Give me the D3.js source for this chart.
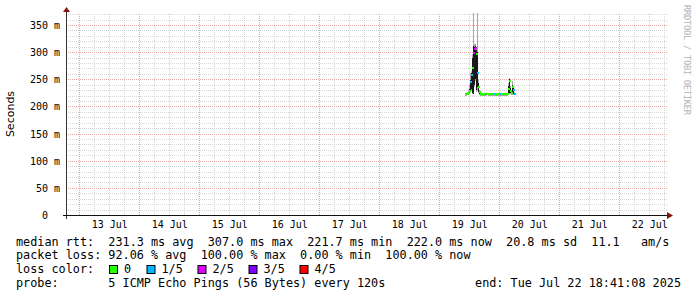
<!DOCTYPE html>
<html>
<head>
<meta charset="utf-8">
<script src="https://cdn.jsdelivr.net/npm/d3@7"></script>
<style>
  body { margin: 0; background: #fff; }
  svg { display: block; }
  text { font-family: "DejaVu Sans Mono", monospace; fill: #000; white-space: pre; }
</style>
</head>
<body>
<svg id="chart"></svg>
<script>
// time window of the graph (10 days ending at the probe time)
var startTime = new Date(2025, 6, 12, 18, 41, 8);
var endTime = new Date(2025, 6, 22, 18, 41, 8);

// y axis ticks in seconds
var yTicks = [0, 0.05, 0.1, 0.15, 0.2, 0.25, 0.3, 0.35];

// samples: one every 24 minutes starting at 19 Jul 10:24
var sampleStart = new Date(2025, 6, 19, 10, 24);
var sampleStepMin = 24;

// median rtt (ms) per sample
var medianRtt = [222, 222, 223, 224, 228, 245, 258, 270, 298, 305,
                 307, 296, 262, 236, 226, 222, 222, 221, 222, 222,
                 222, 222, 223, 222, 222, 222, 222, 222, 222, 222,
                 221, 222, 222, 222, 222, 222, 222, 222, 222, 222,
                 222, 222, 222, 232, 247, 229, 224, 236, 231, 223];

// lost pings out of 5 per sample
var lossCount = [0, 0, 0, 0, 0, 1, 1, 0, 2, 2,
                 2, 0, 1, 0, 0, 0, 0, 0, 0, 0,
                 1, 0, 0, 0, 0, 0, 0, 0, 0, 1,
                 0, 0, 0, 0, 0, 1, 0, 0, 0, 0,
                 0, 0, 0, 0, 0, 0, 0, 0, 1, 1];

// dark smoke (inner pings), ms
var smokeLow  = [221, 221, 222, 222, 224, 226, 232, 224, 222, 240,
                 250, 230, 236, 226, 222, 221, 221, 221, 221, 221,
                 221, 221, 222, 221, 221, 221, 221, 221, 221, 221,
                 220, 221, 221, 221, 221, 221, 221, 221, 221, 221,
                 221, 221, 221, 224, 224, 224, 222, 222, 222, 222];
var smokeHigh = [223, 223, 224, 226, 232, 248, 262, 290, 312, 310,
                 312, 304, 300, 244, 228, 223, 223, 222, 223, 223,
                 223, 223, 224, 223, 223, 223, 223, 223, 223, 223,
                 222, 223, 223, 223, 223, 223, 223, 223, 223, 223,
                 223, 223, 223, 238, 250, 234, 226, 240, 234, 225];

// light smoke (all pings), ms
var pingMin = [220, 220, 221, 221, 222, 224, 228, 222, 222, 236,
               246, 226, 228, 224, 221, 220, 220, 220, 220, 220,
               220, 220, 221, 220, 220, 220, 220, 220, 220, 220,
               219, 220, 220, 220, 220, 220, 220, 220, 220, 220,
               220, 220, 220, 222, 222, 222, 221, 221, 221, 221];
var pingMax = [224, 224, 226, 230, 240, 262, 266, 296, 372, 314,
               314, 308, 372, 250, 230, 224, 224, 223, 224, 224,
               224, 224, 225, 224, 224, 224, 224, 224, 224, 224,
               223, 224, 224, 224, 224, 224, 224, 224, 224, 224,
               224, 224, 224, 244, 253, 238, 228, 246, 236, 227];

var lossLabels = ["0", "1/5", "2/5", "3/5", "4/5"];
var lossColors = ["#26ff00", "#00b8ff", "#dd00ff", "#7e00ff", "#ff0000"];

var legendLines = [
  "median rtt:  231.3 ms avg  307.0 ms max  221.7 ms min  222.0 ms now  20.8 ms sd  11.1   am/s",
  "packet loss: 92.06 % avg  100.00 % max  0.00 % min  100.00 % now",
  "loss color:",
  "probe:       5 ICMP Echo Pings (56 Bytes) every 120s"
];
var endLabel = "end: Tue Jul 22 18:41:08 2025";

var W = 697, H = 297;
var pLeft = 66, pRight = 666, pTop = 13, pBottom = 215;

var svg = d3.select("#chart").attr("width", W).attr("height", H);

var x = d3.scaleTime().domain([startTime, endTime]).range([pLeft, pRight]);
var y = d3.scaleLinear().domain([0, 0.372]).range([pBottom, pTop]);

function grid(g, color) {
  g.select(".domain").remove();
  g.selectAll("line")
      .attr("stroke", color)
      .attr("stroke-dasharray", "1,1")
      .attr("shape-rendering", "crispEdges");
}

// minor grid
svg.append("g")
    .attr("transform", "translate(0," + pBottom + ")")
    .call(d3.axisBottom(x).ticks(d3.timeHour.every(6)).tickSize(-(pBottom - pTop)).tickFormat(""))
    .call(grid, "#d6d6d6");
svg.append("g")
    .attr("transform", "translate(" + pLeft + ",0)")
    .call(d3.axisLeft(y).tickValues(d3.range(1, 38).map(d => d / 100)).tickSize(-(pRight - pLeft + 1)).tickFormat(""))
    .call(grid, "#d6d6d6");

// major grid
svg.append("g")
    .attr("transform", "translate(0," + pBottom + ")")
    .call(d3.axisBottom(x).ticks(d3.timeDay.every(1)).tickSize(-(pBottom - pTop)).tickFormat(""))
    .call(grid, "#e4a8a8");
svg.append("g")
    .attr("transform", "translate(" + pLeft + ",0)")
    .call(d3.axisLeft(y).tickValues(yTicks.slice(1)).tickSize(-(pRight - pLeft + 1)).tickFormat(""))
    .call(grid, "#e4a8a8");

// data
var samples = medianRtt.map(function(m, i) {
  var t0 = d3.timeMinute.offset(sampleStart, i * sampleStepMin);
  var t1 = d3.timeMinute.offset(sampleStart, (i + 1) * sampleStepMin);
  return { t0: t0, t1: t1, median: m / 1000, loss: lossCount[i],
           lo: smokeLow[i] / 1000, hi: smokeHigh[i] / 1000,
           min: pingMin[i] / 1000, max: pingMax[i] / 1000 };
});

var plot = svg.append("g").attr("shape-rendering", "crispEdges");

plot.selectAll("rect.light").data(samples).enter().append("rect")
    .attr("class", "light")
    .attr("x", d => x(d.t0))
    .attr("width", d => Math.max(1, x(d.t1) - x(d.t0)))
    .attr("y", d => y(d.max))
    .attr("height", d => y(d.min) - y(d.max))
    .attr("fill", "#a8a8a8");

plot.selectAll("rect.dark").data(samples).enter().append("rect")
    .attr("class", "dark")
    .attr("x", d => x(d.t0))
    .attr("width", d => Math.max(1, x(d.t1) - x(d.t0)))
    .attr("y", d => y(d.hi))
    .attr("height", d => y(d.lo) - y(d.hi))
    .attr("fill", "#1a1a1a");

plot.selectAll("rect.median").data(samples).enter().append("rect")
    .attr("class", "median")
    .attr("x", d => x(d.t0))
    .attr("width", d => Math.max(1, x(d.t1) - x(d.t0)) + 0.5)
    .attr("y", d => y(d.median) - 1)
    .attr("height", 2)
    .attr("fill", d => lossColors[d.loss]);

// axes lines and arrows
svg.append("line")
    .attr("x1", pLeft + 0.5).attr("x2", pLeft + 0.5)
    .attr("y1", pTop - 1).attr("y2", pBottom + 4)
    .attr("stroke", "#333");
svg.append("line")
    .attr("x1", pLeft - 3).attr("x2", pRight + 1)
    .attr("y1", pBottom + 0.5).attr("y2", pBottom + 0.5)
    .attr("stroke", "#111");
svg.append("path")
    .attr("d", "M" + (pLeft - 3) + "," + (pTop - 1) + "L" + (pLeft + 0.5) + "," + (pTop - 6) + "L" + (pLeft + 4) + "," + (pTop - 1) + "Z")
    .attr("fill", "#8b1010");
svg.append("path")
    .attr("d", "M" + (pRight + 1) + "," + (pBottom - 3) + "L" + (pRight + 7) + "," + (pBottom + 0.5) + "L" + (pRight + 1) + "," + (pBottom + 4) + "Z")
    .attr("fill", "#8b1010");

// y tick labels
svg.append("g").selectAll("text").data(yTicks).enter().append("text")
    .attr("x", 60)
    .attr("y", d => y(d) + 4)
    .attr("text-anchor", "end")
    .attr("font-size", "10px")
    .text(d => d === 0 ? "0  " : d3.format(".0f")(d * 1000) + " m");

// x tick labels at noon
var noonTicks = d3.timeDay.range(d3.timeDay.ceil(startTime), endTime)
    .map(d => d3.timeHour.offset(d, 12));
svg.append("g").selectAll("text").data(noonTicks).enter().append("text")
    .attr("x", d => x(d) + 0.5)
    .attr("y", 228)
    .attr("text-anchor", "middle")
    .attr("font-size", "10px")
    .text(d3.timeFormat("%d %b"));

// axis title
svg.append("text")
    .attr("transform", "translate(14,114) rotate(-90)")
    .attr("text-anchor", "middle")
    .attr("font-size", "11px")
    .style("font-family", "DejaVu Sans, sans-serif")
    .text("Seconds");

// watermark
svg.append("text")
    .attr("transform", "translate(684,5) rotate(90)")
    .attr("font-size", "8.6px")
    .attr("textLength", 110)
    .attr("lengthAdjust", "spacing")
    .style("fill", "#b4b4b4")
    .text("RRDTOOL / TOBI OETIKER");

// legend
var legendY = [245.5, 259, 273, 287];
svg.append("g").selectAll("text").data(legendLines).enter().append("text")
    .attr("x", 16)
    .attr("y", (d, i) => legendY[i])
    .attr("font-size", "11.8px")
    .text(d => d);

svg.append("text")
    .attr("x", 681)
    .attr("y", legendY[3])
    .attr("text-anchor", "end")
    .attr("font-size", "11.8px")
    .text(endLabel);

var boxX = [109, 146.5, 197.5, 248.5, 299.5];
var lg = svg.append("g");
lg.selectAll("rect").data(lossColors).enter().append("rect")
    .attr("x", (d, i) => boxX[i] + 0.5)
    .attr("y", 265.5)
    .attr("width", 8)
    .attr("height", 8)
    .attr("fill", d => d)
    .attr("stroke", "#000");
lg.selectAll("text").data(lossLabels).enter().append("text")
    .attr("x", (d, i) => boxX[i] + 15)
    .attr("y", legendY[2])
    .attr("font-size", "11.8px")
    .text(d => d);
</script>
</body>
</html>
